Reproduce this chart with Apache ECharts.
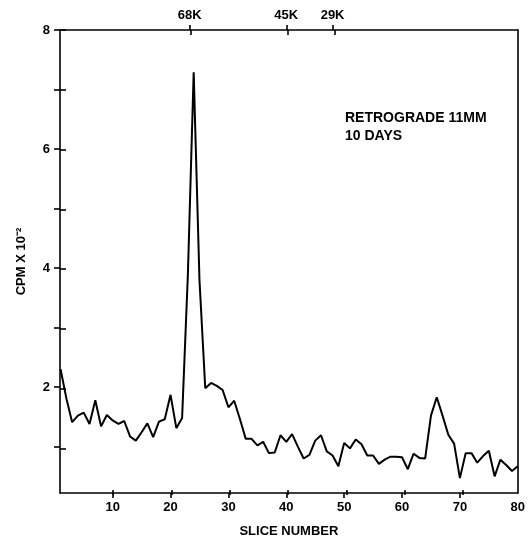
<!DOCTYPE html>
<html lang="en">
<head>
    <meta charset="utf-8">
    <title>Retrograde 11mm - 10 days</title>
    <script src="https://cdn.jsdelivr.net/npm/echarts@6/dist/echarts.min.js"></script>
    <style>
        html, body { margin: 0; padding: 0; background: #fff; }
        #main { width: 528px; height: 543px; }
    </style>
</head>
<body>
<div id="main"></div>
<script type="text/javascript">
// CPM x 10^-2 per slice, slices 1..80
var cpm = [
    2.30, 1.81, 1.41, 1.52, 1.57, 1.38, 1.78, 1.34, 1.53, 1.44,
    1.38, 1.43, 1.17, 1.10, 1.24, 1.39, 1.16, 1.42, 1.46, 1.87,
    1.31, 1.48, 3.90, 7.29, 3.80, 1.98, 2.07, 2.02, 1.95, 1.66,
    1.77, 1.46, 1.13, 1.13, 1.02, 1.08, 0.89, 0.90, 1.19, 1.08,
    1.21, 1.00, 0.80, 0.86, 1.10, 1.19, 0.92, 0.85, 0.67, 1.06,
    0.97, 1.12, 1.04, 0.85, 0.85, 0.71, 0.78, 0.83, 0.83, 0.82,
    0.62, 0.88, 0.81, 0.80, 1.52, 1.83, 1.52, 1.20, 1.05, 0.47,
    0.89, 0.89, 0.73, 0.84, 0.93, 0.50, 0.78, 0.69, 0.59, 0.67
];
var xTicks = [10, 20, 30, 40, 50, 60, 70];
var xLabels = [10, 20, 30, 40, 50, 60, 70, 80];
var yTicks = [1, 2, 3, 4, 5, 6, 7, 8];
var yLabels = [2, 4, 6, 8];
// molecular weight markers on top axis
var markerPos = [23.3, 40, 48];
var markerLabels = ['68K', '45K', '29K'];
var noteLines = ['RETROGRADE 11MM', '10 DAYS'];

var lineData = [];
for (var i = 0; i < cpm.length; i++) {
    lineData.push([i + 1, cpm[i]]);
}

var font = 'Liberation Sans';
var xMin = 0.9, xMax = 80, yMin = 0.22, yMax = 8;
var gridBox = { left: 60, top: 30, right: 6.5, bottom: 48 };
var lineStyle = { color: '#000', width: 1.6 };

var myChart = echarts.init(document.getElementById('main'), null, { renderer: 'canvas' });
var option = {
    backgroundColor: '#fff',
    animation: false,
    grid: [
        Object.assign({}, gridBox),
        Object.assign({}, gridBox)
    ],
    xAxis: [
        {   // bottom, outside ticks + labels
            gridIndex: 0, type: 'value', position: 'bottom', min: xMin, max: xMax,
            axisLine: { lineStyle: lineStyle },
            axisTick: { inside: false, length: 5, customValues: xTicks, lineStyle: lineStyle },
            axisLabel: { customValues: xLabels, color: '#000', fontFamily: font, fontWeight: 'bold', fontSize: 13, margin: 8 },
            splitLine: { show: false },
            name: 'SLICE NUMBER', nameLocation: 'middle', nameGap: 32,
            nameTextStyle: { color: '#000', fontFamily: font, fontWeight: 'bold', fontSize: 13 }
        },
        {   // top border with markers
            gridIndex: 0, type: 'value', position: 'top', min: xMin, max: xMax,
            axisLine: { lineStyle: lineStyle },
            axisTick: { inside: false, length: 5, customValues: markerPos, lineStyle: lineStyle },
            axisLabel: {
                customValues: markerPos, color: '#000', fontFamily: font, fontWeight: 'bold', fontSize: 13, margin: 8,
                formatter: function (v) {
                    var k = markerPos.indexOf(v);
                    return k >= 0 ? markerLabels[k] : '';
                }
            },
            splitLine: { show: false }
        },
        {   // inner half of bottom ticks
            gridIndex: 1, type: 'value', position: 'bottom', min: xMin, max: xMax,
            axisLine: { show: false },
            axisTick: { inside: true, length: 5, customValues: xTicks, lineStyle: lineStyle },
            axisLabel: { show: false },
            splitLine: { show: false }
        },
        {   // inner half of top ticks
            gridIndex: 1, type: 'value', position: 'top', min: xMin, max: xMax,
            axisLine: { show: false },
            axisTick: { inside: true, length: 5, customValues: markerPos, lineStyle: lineStyle },
            axisLabel: { show: false },
            splitLine: { show: false }
        }
    ],
    yAxis: [
        {
            gridIndex: 0, type: 'value', position: 'left', min: yMin, max: yMax,
            axisLine: { show: true, lineStyle: lineStyle },
            axisTick: { show: true, inside: false, length: 6, customValues: yTicks, lineStyle: lineStyle },
            axisLabel: { customValues: yLabels, color: '#000', fontFamily: font, fontWeight: 'bold', fontSize: 13, margin: 10 },
            splitLine: { show: false },
            name: 'CPM X 10\u207B\u00B2', nameLocation: 'middle', nameRotate: 90, nameGap: 32,
            nameTextStyle: { color: '#000', fontFamily: font, fontWeight: 'bold', fontSize: 13 }
        },
        {   // right border
            gridIndex: 0, type: 'value', position: 'right', min: yMin, max: yMax,
            axisLine: { show: true, lineStyle: lineStyle },
            axisTick: { show: false },
            axisLabel: { show: false },
            splitLine: { show: false }
        },
        {   // inner half of left ticks
            gridIndex: 1, type: 'value', position: 'left', min: yMin, max: yMax,
            axisLine: { show: false },
            axisTick: { show: true, inside: true, length: 6, customValues: yTicks, lineStyle: lineStyle },
            axisLabel: { show: false },
            splitLine: { show: false }
        }
    ],
    graphic: [{
        type: 'text', left: 345, top: 109,
        style: {
            text: noteLines.join('\n'), fill: '#000', lineHeight: 18,
            font: 'bold 14px "Liberation Sans"'
        }
    }],
    series: [{
        type: 'line',
        xAxisIndex: 0, yAxisIndex: 0,
        data: lineData,
        showSymbol: false,
        lineStyle: { color: '#000', width: 2 },
        clip: true
    }]
};
myChart.setOption(option);
</script>
</body>
</html>
